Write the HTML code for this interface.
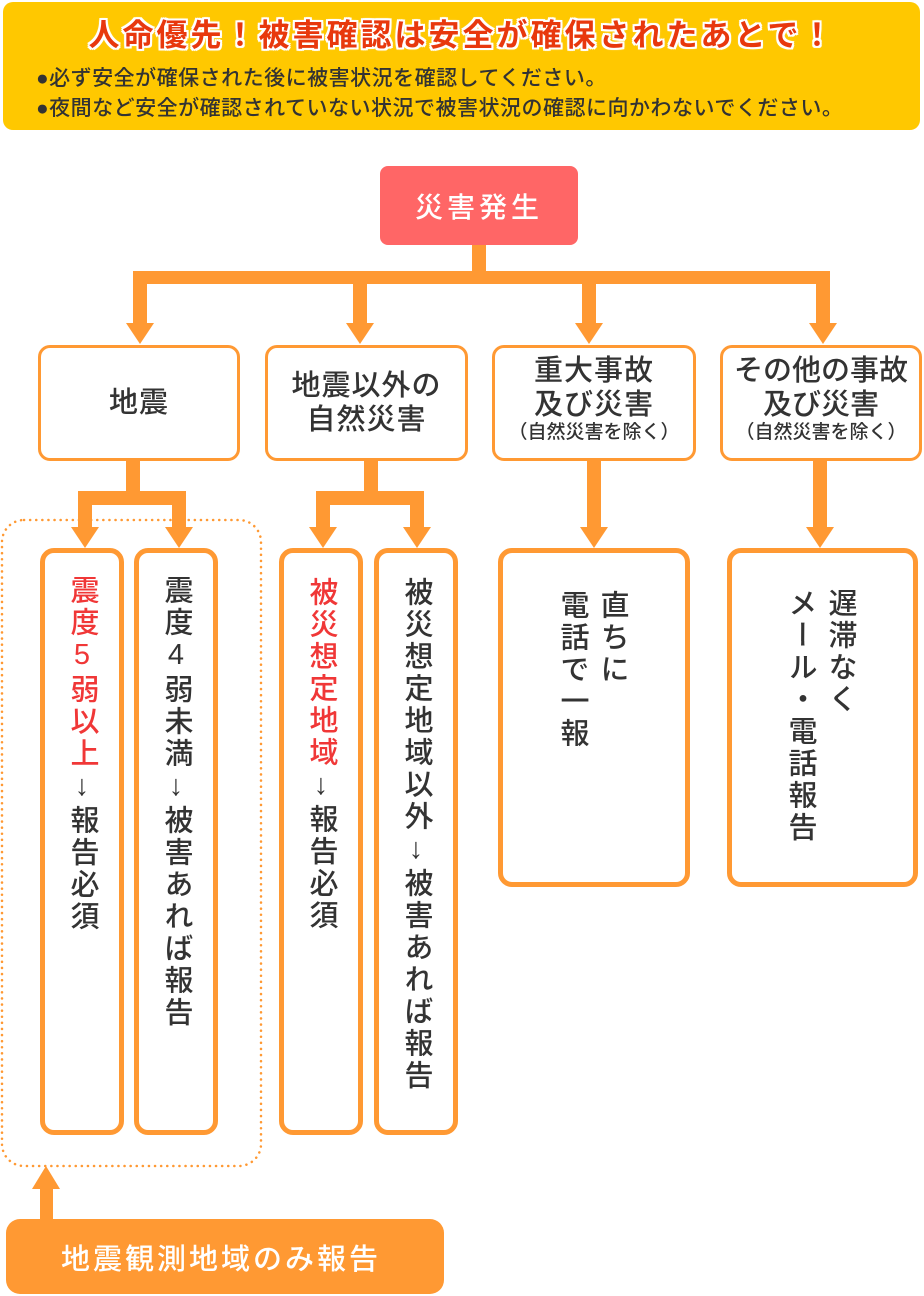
<!DOCTYPE html>
<html><head><meta charset="utf-8"><style>
*{margin:0;padding:0;box-sizing:border-box}
body{width:924px;height:1296px;background:#fff;position:relative;overflow:hidden;font-family:"Liberation Sans","Noto Sans CJK JP",sans-serif;color:#333;font-weight:500}
.a{position:absolute}
.banner{left:3px;top:2px;width:917px;height:128px;background:#FFC800;border-radius:10px}
.title{left:0;top:10px;width:924px;text-align:center;font-size:31px;font-weight:bold;color:#E8380D;text-shadow:0 0 3px #fff,0 0 3px #fff,2px 0 0 #fff,-2px 0 0 #fff,0 2px 0 #fff,0 -2px 0 #fff,2px 2px 0 #fff,-2px -2px 0 #fff,2px -2px 0 #fff,-2px 2px 0 #fff;letter-spacing:3px}
.bul{left:36px;font-size:21px;color:#333;white-space:nowrap;letter-spacing:0.5px}
.box{border:3px solid #FF9933;border-radius:12px;background:#fff;display:flex;align-items:center;justify-content:center;text-align:center;font-size:29px;line-height:34px;letter-spacing:1px}
.tall{border:5px solid #FF9933;border-radius:14px;background:#fff}
.v{position:absolute;writing-mode:vertical-rl;text-orientation:upright;font-size:29px;letter-spacing:3px;line-height:32px}
.small{font-size:19px;line-height:22px;display:block;letter-spacing:0}
</style></head><body>
<div class="a banner"></div>
<div class="a title">人命優先！被害確認は安全が確保されたあとで！</div>
<div class="a bul" style="top:62px">●必ず安全が確保された後に被害状況を確認してください。</div>
<div class="a bul" style="top:92px">●夜間など安全が確認されていない状況で被害状況の確認に向かわないでください。</div>

<div class="a" style="left:380px;top:166px;width:198px;height:79px;background:#FF6666;border-radius:8px;color:#fff;font-size:28px;display:flex;align-items:center;justify-content:center;letter-spacing:4px">災害発生</div>

<svg class="a" style="left:0;top:0" width="924" height="1296">
<g fill="#FF9933">
<rect x="472" y="245" width="14" height="39"/>
<rect x="133" y="271" width="697" height="13"/>
<rect x="133" y="271" width="14" height="54"/><polygon points="126,323 154,323 140,344"/>
<rect x="353" y="271" width="14" height="54"/><polygon points="346,323 374,323 360,344"/>
<rect x="582" y="271" width="14" height="54"/><polygon points="575,323 603,323 589,344"/>
<rect x="816" y="271" width="14" height="54"/><polygon points="809,323 837,323 823,344"/>
<rect x="126" y="461" width="14" height="44"/>
<rect x="78" y="491" width="108" height="14"/>
<rect x="78" y="491" width="14" height="38"/><polygon points="71,527 99,527 85,548"/>
<rect x="172" y="491" width="14" height="38"/><polygon points="165,527 193,527 179,548"/>
<rect x="364" y="461" width="14" height="44"/>
<rect x="316" y="491" width="108" height="14"/>
<rect x="316" y="491" width="14" height="38"/><polygon points="309,527 337,527 323,548"/>
<rect x="410" y="491" width="14" height="38"/><polygon points="403,527 431,527 417,548"/>
<rect x="587" y="461" width="14" height="68"/><polygon points="580,527 608,527 594,548"/>
<rect x="813" y="461" width="14" height="68"/><polygon points="806,527 834,527 820,548"/>
<rect x="40" y="1186" width="13" height="36"/><polygon points="32,1189 60,1189 46,1166"/>
</g>
<rect x="2" y="520" width="259" height="646" rx="22" fill="none" stroke="#FF9933" stroke-width="2.5" stroke-dasharray="0.1 6" stroke-linecap="round"/>
</svg>

<div class="a box" style="left:38px;top:345px;width:202px;height:116px">地震</div>
<div class="a box" style="left:265px;top:345px;width:203px;height:116px">地震以外の<br>自然災害</div>
<div class="a box" style="left:492px;top:345px;width:204px;height:116px;display:block;padding-top:6px">重大事故<br>及び災害<span class="small">（自然災害を除く）</span></div>
<div class="a box" style="left:720px;top:345px;width:202px;height:116px;display:block;padding-top:6px;letter-spacing:0">その他の事故<br>及び災害<span class="small">（自然災害を除く）</span></div>

<div class="a tall" style="left:40px;top:548px;width:84px;height:587px"></div>
<div class="a tall" style="left:134px;top:548px;width:84px;height:587px"></div>
<div class="a tall" style="left:279px;top:548px;width:84px;height:587px"></div>
<div class="a tall" style="left:374px;top:548px;width:84px;height:587px"></div>
<div class="a tall" style="left:498px;top:548px;width:192px;height:339px"></div>
<div class="a tall" style="left:727px;top:548px;width:191px;height:339px"></div>

<div class="v" style="left:66px;top:575px"><span style="color:#F03737">震度5弱以上</span><b>↓</b>報告必須</div>
<div class="v" style="left:160px;top:575px">震度4弱未満<b>↓</b>被害あれば報告</div>
<div class="v" style="left:305px;top:577px"><span style="color:#F03737">被災想定地域</span><b>↓</b>報告必須</div>
<div class="v" style="left:400px;top:577px">被災想定地域以外<b>↓</b>被害あれば報告</div>
<div class="v" style="left:596px;top:590px">直ちに</div>
<div class="v" style="left:556px;top:590px">電話で一報</div>
<div class="v" style="left:824px;top:588px">遅滞なく</div>
<div class="v" style="left:784px;top:588px">メール・電話報告</div>

<div class="a" style="left:6px;top:1219px;width:438px;height:75px;background:#FF9933;border-radius:14px;color:#fff;font-size:29px;display:flex;align-items:center;padding-left:55px;letter-spacing:3px">地震観測地域のみ報告</div>
</body></html>
